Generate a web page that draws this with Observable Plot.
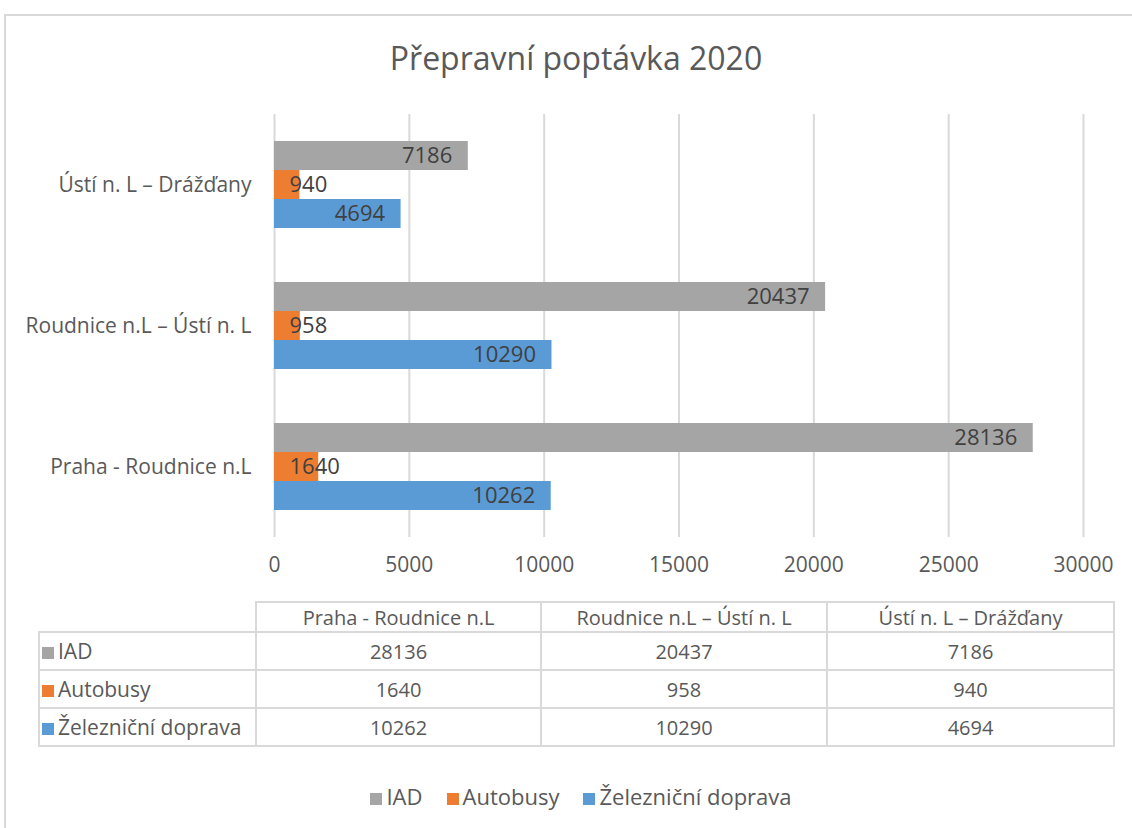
<!DOCTYPE html>
<html>
<head>
<meta charset="utf-8">
<script src="https://cdn.jsdelivr.net/npm/d3@7"></script>
<script src="https://cdn.jsdelivr.net/npm/@observablehq/plot@0.6"></script>
<style>
  html, body { margin: 0; padding: 0; background: #fff; width: 1132px; height: 828px; overflow: hidden; }
  body { font-family: "Open Sans", sans-serif; color: #595959; position: relative; }
  #frame { position: absolute; left: 4px; top: 14px; width: 1200px; height: 900px; border-left: 2px solid #d9d9d9; border-top: 2px solid #d9d9d9; }
  #title { position: absolute; left: 0; width: 1152px; top: 36px; text-align: center; font-size: 32px; color: #595959; }
  #chart { position: absolute; left: 0; top: 100px; }
  #tbl { position: absolute; left: 38px; top: 601px; border-collapse: collapse; font-size: 20px; color: #595959; table-layout: fixed; }
  #tbl td { border: 2px solid #d9d9d9; text-align: center; padding: 0; white-space: nowrap; }
  #tbl td.rowhead { text-align: left; padding-left: 2px; font-size: 21px; }
  #tbl td.empty { border: none; }
  .sw { display: inline-block; width: 12px; height: 12px; margin-right: 4px; vertical-align: 0px; }
  #legend { position: absolute; left: 0; width: 1162px; top: 781px; text-align: center; font-size: 22px; color: #595959; }
  #legend span.item { margin: 0 12px; }
</style>
</head>
<body>
<div id="frame"></div>
<div id="title">Přepravní poptávka 2020</div>
<div id="chart"></div>
<table id="tbl"></table>
<div id="legend"></div>
<script>
const routes = ["Praha - Roudnice n.L", "Roudnice n.L – Ústí n. L", "Ústí n. L – Drážďany"];
const series = ["IAD", "Autobusy", "Železniční doprava"];
const iad = [28136, 20437, 7186];
const autobusy = [1640, 958, 940];
const zeleznicni = [10262, 10290, 4694];
const colors = ["#a5a5a5", "#ed7d31", "#5b9bd5"];
const xTicks = [0, 5000, 10000, 15000, 20000, 25000, 30000];

const values = [iad, autobusy, zeleznicni];
const data = routes.flatMap((r, i) => series.map((s, j) => ({route: r, series: s, value: values[j][i]})));

const chart = Plot.plot({
  width: 1132,
  height: 487,
  marginLeft: 274,
  marginRight: 49,
  marginTop: 13,
  marginBottom: 50,
  style: {fontFamily: "Open Sans", fontSize: "21px", color: "#595959", background: "transparent", overflow: "visible"},
  x: {domain: [0, 30000], ticks: xTicks, tickSize: 0, tickPadding: 20, label: null, tickFormat: d => String(d)},
  fy: {domain: [routes[2], routes[1], routes[0]], padding: 0, label: null, axis: "left", tickSize: 0, tickPadding: 23},
  y: {domain: series, paddingInner: 0, paddingOuter: 0.93, axis: null},
  color: {domain: series, range: colors},
  marks: [
    Plot.ruleX(xTicks, {stroke: "#d9d9d9", strokeWidth: 2}),
    Plot.barX(data, {x: "value", y: "series", fy: "route", fill: "series"}),
    Plot.text(data.filter(d => d.series !== "Autobusy"), {x: "value", y: "series", fy: "route", text: d => String(d.value), textAnchor: "end", dx: -16, fill: "#404040", fontSize: 22}),
    Plot.text(data.filter(d => d.series === "Autobusy"), {x: d => 0, y: "series", fy: "route", text: d => String(d.value), textAnchor: "start", dx: 15, fill: "#404040", fontSize: 22})
  ]
});
document.getElementById("chart").appendChild(chart);

// data table
const tbl = document.getElementById("tbl");
const colW = [217, 285, 286, 287];
const cg = document.createElement("colgroup");
colW.forEach(w => { const c = document.createElement("col"); c.style.width = w + "px"; cg.appendChild(c); });
tbl.appendChild(cg);
const hr = document.createElement("tr");
hr.style.height = "30px";
const e = document.createElement("td"); e.className = "empty"; hr.appendChild(e);
routes.forEach(r => { const td = document.createElement("td"); td.textContent = r; hr.appendChild(td); });
tbl.appendChild(hr);
series.forEach((s, j) => {
  const tr = document.createElement("tr");
  tr.style.height = "38px";
  const th = document.createElement("td"); th.className = "rowhead";
  th.innerHTML = `<span class="sw" style="background:${colors[j]}"></span>${s}`;
  tr.appendChild(th);
  routes.forEach((r, i) => { const td = document.createElement("td"); td.textContent = String(values[j][i]); tr.appendChild(td); });
  tbl.appendChild(tr);
});

// legend
const lg = document.getElementById("legend");
series.forEach((s, j) => {
  const it = document.createElement("span"); it.className = "item";
  it.innerHTML = `<span class="sw" style="background:${colors[j]}"></span>${s}`;
  lg.appendChild(it);
});
</script>
</body>
</html>
